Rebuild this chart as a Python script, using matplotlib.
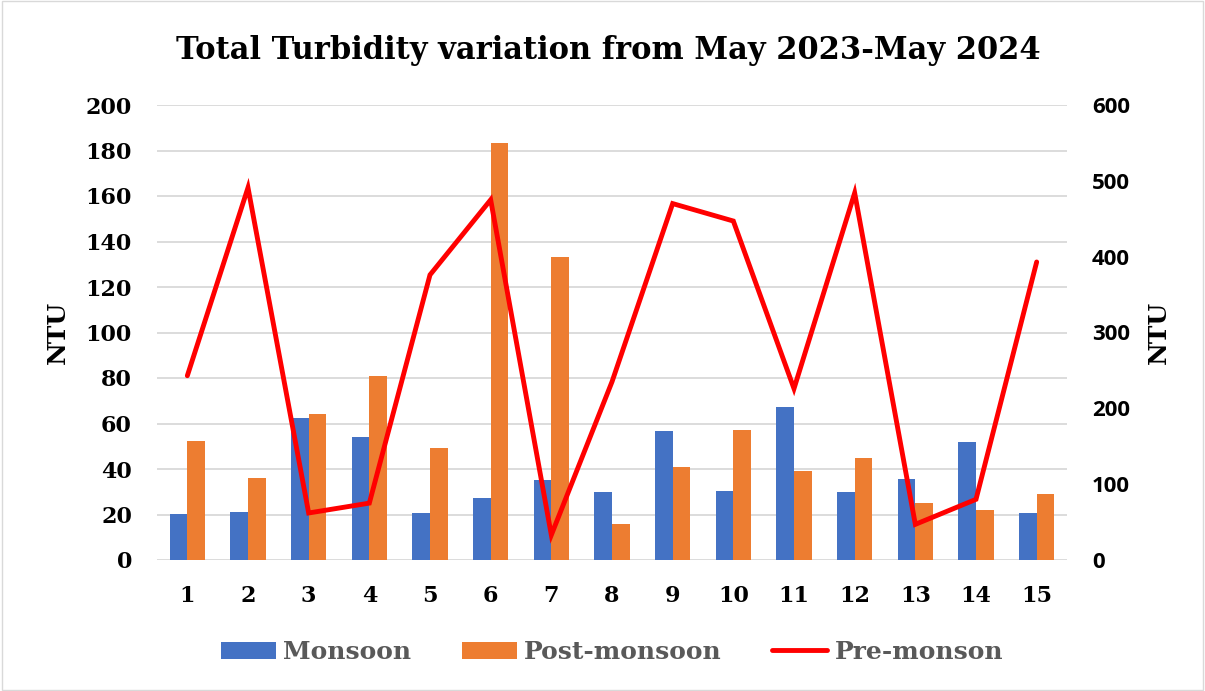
import matplotlib
matplotlib.use("Agg")
import matplotlib.pyplot as plt
import numpy as np
from matplotlib.patches import Rectangle

categories = [str(i) for i in range(1, 16)]
monsoon = [20.2, 21, 62.4, 54, 20.7, 27.3, 35.2, 29.9, 56.7, 30.3, 67.3, 29.9, 35.6, 51.9, 20.7]
post_monsoon = [52.3, 36, 64.2, 80.9, 49.2, 183.3, 133.2, 15.8, 40.9, 57.1, 39.1, 44.8, 25, 22, 29]
pre_monsoon = [243, 491, 62, 75, 376, 475, 33, 235, 470, 447, 226, 484, 47, 80, 393]

FONT = "DejaVu Serif"
SANS = "Open Sans"
fig = plt.figure(figsize=(12.05, 6.91), dpi=100)
fig.patches.append(Rectangle((0.002, 0.002), 0.996, 0.996, transform=fig.transFigure,
                             fill=False, edgecolor="#d9d9d9", linewidth=1))
ax = fig.add_axes([157/1205, 1-560/691, 910/1205, 455/691])
ax2 = ax.twinx()

x = np.arange(1, 16)
w = 0.29
ax.bar(x - w/2, monsoon, w, color="#4472c4", label="Monsoon", zorder=2)
ax.bar(x + w/2, post_monsoon, w, color="#ed7d31", label="Post-monsoon", zorder=2)
ax2.plot(x, pre_monsoon, color="#ff0000", lw=3.5, solid_capstyle="round", solid_joinstyle="miter", label="Pre-monson", zorder=3)

ax.set_xlim(0.5, 15.5)
ax.set_ylim(0, 200)
ax2.set_ylim(0, 600)
ax.set_yticks(range(0, 201, 20))
ax2.set_yticks(range(0, 601, 100))
ax.set_xticks(x)
ax.set_xticklabels(categories)
ax.grid(axis="y", color="#d9d9d9", lw=1.3, zorder=0)
ax.set_axisbelow(True)
for a in (ax, ax2):
    for s in a.spines.values():
        s.set_visible(False)
    a.tick_params(length=0)
for lab in ax.get_xticklabels() + ax.get_yticklabels():
    lab.set_fontfamily(FONT)
    lab.set_fontweight("bold")
    lab.set_fontsize(16)
for lab in ax2.get_yticklabels():
    lab.set_fontfamily(SANS)
    lab.set_fontweight("bold")
    lab.set_fontsize(16)
ax.tick_params(axis="x", pad=18)
ax.tick_params(axis="y", pad=18)
ax2.tick_params(axis="y", pad=18)

ax.set_ylabel("NTU", fontsize=18, fontweight="bold", family=FONT, labelpad=11)
ax2.set_ylabel("NTU", fontsize=18, fontweight="bold", family=FONT, labelpad=12)
fig.text(0.505, 1-50/691, "Total Turbidity variation from May 2023-May 2024",
         ha="center", va="center", fontsize=22, fontweight="bold", family=FONT)

h1, l1 = ax.get_legend_handles_labels()
h2, l2 = ax2.get_legend_handles_labels()
leg = fig.legend(h1 + h2, l1 + l2, loc="center", bbox_to_anchor=(612/1205, 1-652/691),
                 ncol=3, frameon=False, prop={"family": FONT, "weight": "bold", "size": 18},
                 handlelength=2.2, handleheight=0.7, columnspacing=2.0, handletextpad=0.3)
for t in leg.get_texts():
    t.set_color("#595959")

fig.savefig("out.png", dpi=100)
